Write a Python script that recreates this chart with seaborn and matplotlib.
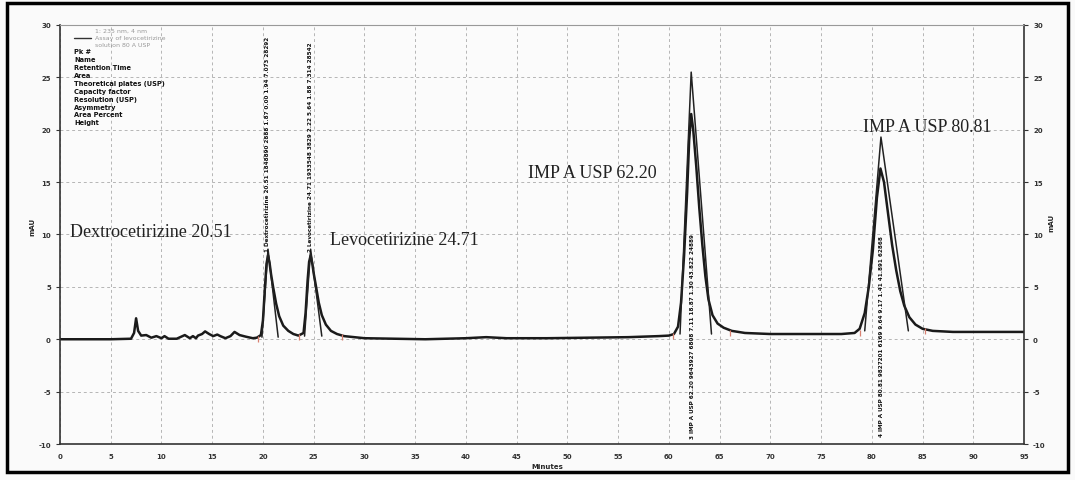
import matplotlib
matplotlib.use("Agg")
import matplotlib.pyplot as plt
from matplotlib.patches import Rectangle
import seaborn as sns
import pandas as pd

# ── data ─────────────────────────────────────────────────────────────────────
time_min = [0, 5, 7.0, 7.3, 7.5, 7.7, 8.0, 8.5, 9.0, 9.5, 10.0, 10.3, 10.7, 11.5,
            12.3, 12.8, 13.1, 13.4, 13.6, 14.0, 14.3, 14.7, 15.1, 15.5, 15.8, 16.3,
            16.8, 17.2, 17.7, 18.3, 19.0, 19.4, 19.8, 20.0, 20.2, 20.35, 20.5, 20.65,
            20.8, 21.0, 21.3, 21.6, 22.0, 22.5, 23.0, 23.5, 24.0, 24.2, 24.4, 24.55,
            24.7, 24.85, 25.0, 25.2, 25.5, 25.8, 26.2, 26.7, 27.3, 28.0, 29.0, 30.0,
            33, 36, 40, 42, 44, 48, 52, 56, 59, 60.0, 60.5, 60.9, 61.2, 61.5, 61.8,
            62.0, 62.2, 62.4, 62.7, 63.0, 63.3, 63.6, 63.9, 64.3, 64.8, 65.4, 66.2,
            67.5, 70, 74, 77, 78.3, 78.8, 79.3, 79.7, 80.1, 80.5, 80.85, 81.2, 81.6,
            82.0, 82.4, 82.8, 83.2, 83.7, 84.3, 85.0, 86.0, 88, 91, 95]
signal_mau = [0.0, 0.0, 0.05, 0.6, 2.0, 0.8, 0.35, 0.4, 0.15, 0.3, 0.1, 0.3, 0.05, 0.05,
              0.4, 0.1, 0.3, 0.1, 0.35, 0.5, 0.75, 0.5, 0.3, 0.45, 0.3, 0.1,
              0.3, 0.7, 0.4, 0.25, 0.1, 0.15, 0.4, 1.8, 5.0, 7.2, 8.0, 7.3,
              6.2, 5.0, 3.4, 2.2, 1.3, 0.8, 0.5, 0.35, 0.6, 2.5, 5.6, 7.4,
              8.0, 7.3, 6.3, 5.2, 3.5, 2.3, 1.4, 0.8, 0.5, 0.3, 0.2, 0.1,
              0.05, 0.0, 0.1, 0.2, 0.1, 0.1, 0.15, 0.2, 0.3, 0.35, 0.5, 1.2, 3.5, 8.0, 14.0,
              19.0, 21.5, 20.0, 16.5, 12.5, 9.0, 6.0, 3.8, 2.3, 1.5, 1.1, 0.8,
              0.6, 0.5, 0.5, 0.5, 0.6, 1.0, 2.5, 5.0, 8.5, 13.5, 16.3, 15.0, 12.0,
              9.0, 6.6, 4.6, 3.2, 2.1, 1.4, 1.0, 0.8, 0.7, 0.7, 0.7]

# USP tangent construction per peak
tan_left = [19.9, 24.1, 61.1, 79.3]
tan_apex_t = [20.5, 24.7, 62.2, 80.9]
tan_right = [21.5, 25.8, 64.2, 83.6]
tan_apex_h = [8.6, 8.6, 25.5, 19.3]
tan_base = [0.2, 0.3, 0.5, 0.8]

# integration start/end marks
mark_t = [19.5, 23.6, 27.8, 60.4, 66.0, 78.8, 85.2]
mark_y = [0.0, 0.2, 0.2, 0.3, 0.6, 0.6, 0.8]

# peak names written on the chart
peak_names = ["Dextrocetirizine 20.51", "Levocetirizine 24.71",
              "IMP A USP 62.20", "IMP A USP 80.81"]
name_x = [1.0, 26.6, 46.1, 79.1]
name_y = [10.3, 9.5, 15.9, 20.3]

# rotated result strings on each peak
peak_tables = ["1 Dextrocetirizine 20.51 1848890 2888 1.87 0.00 1.94 7.073 28292",
               "2 Levocetirizine 24.71 1933548 3829 2.22 5.64 1.88 7.314 28542",
               "3 IMP A USP 62.20 9643927 6808 7.11 18.87 1.30 43.822 24889",
               "4 IMP A USP 80.81 9827201 6169 9.64 9.17 1.41 41.891 62868"]
table_x = [20.4, 24.7, 62.3, 81.0]

legend_rows = ["Pk #", "Name", "Retention Time", "Area", "Theoretical plates (USP)",
               "Capacity factor", "Resolution (USP)", "Asymmetry", "Area Percent",
               "Height"]

x_ticks = list(range(0, 100, 5))
y_ticks = list(range(-10, 35, 5))

trace = pd.DataFrame({"Minutes": time_min, "mAU": signal_mau})

# ── plot ─────────────────────────────────────────────────────────────────────
sns.set_style("white")
plt.rcParams["font.family"] = ["DejaVu Sans"]
plt.rcParams["axes.unicode_minus"] = False

fig = plt.figure(figsize=(10.75, 4.81), dpi=100, facecolor="#fafafa")
ax = fig.add_axes([0.0558, 0.0748, 0.8968, 0.8712])
ax.set_facecolor("#fbfbfb")

sns.lineplot(data=trace, x="Minutes", y="mAU", ax=ax, color="#1a1a1a",
             linewidth=1.8, estimator=None, sort=False)

for l, a, r, h, b in zip(tan_left, tan_apex_t, tan_right, tan_apex_h, tan_base):
    ax.plot([l, a, r], [b, h, b], color="#222222", linewidth=1.1)

ax.scatter(mark_t, mark_y, marker="|", s=18, color="#d98070", linewidths=0.9, zorder=3)

for name, x, y in zip(peak_names, name_x, name_y):
    ax.text(x, y, name, fontsize=13, family="Liberation Serif", color="#222222",
            ha="left", va="center")

for i, (txt, x) in enumerate(zip(peak_tables, table_x)):
    if i < 2:
        ax.text(x, 8.4, txt, rotation=90, fontsize=4.1, fontweight="bold",
                ha="center", va="bottom", color="#111111")
    else:
        ax.text(x, 0.4, txt, rotation=90, fontsize=4.1, fontweight="bold",
                ha="center", va="center", color="#111111")

# legend block top-left
ax.text(0.036, 0.988, "1: 235 nm, 4 nm", transform=ax.transAxes, fontsize=4.5,
        color="#999999", va="center")
ax.plot([0.015, 0.032], [0.968, 0.968], transform=ax.transAxes, color="#333333", lw=1)
ax.text(0.036, 0.970, "Assay of levocetirizine", transform=ax.transAxes, fontsize=4.5,
        color="#999999", va="center")
ax.text(0.036, 0.954, "solution 80 A USP", transform=ax.transAxes, fontsize=4.5,
        color="#999999", va="center")
for k, row in enumerate(legend_rows):
    ax.text(0.015, 0.937 - k * 0.0188, row, transform=ax.transAxes, fontsize=4.8,
            fontweight="bold", color="#111111", va="center")

ax.set_xlim(0, 95)
ax.set_ylim(-10, 30)
ax.set_xticks(x_ticks)
ax.set_yticks(y_ticks)
ax.grid(True, color="#b5b5b5", linestyle=(0, (3, 3)), linewidth=0.7)
ax.tick_params(labelsize=5, length=3, width=0.8, colors="#333333")
for lab in ax.get_xticklabels() + ax.get_yticklabels():
    lab.set_fontweight("bold")
ax.set_xlabel("Minutes", fontsize=5, fontweight="bold")
ax.xaxis.set_label_coords(0.505, -0.045)
ax.set_ylabel("mAU", fontsize=5, fontweight="bold")
ax.yaxis.set_label_coords(-0.026, 0.24 + 0.0)
ax.yaxis.set_label_coords(-0.026, 0.52)
for side in ["left", "bottom", "right"]:
    ax.spines[side].set_color("#333333")
    ax.spines[side].set_linewidth(1.2)
ax.spines["top"].set_color("#999999")
ax.spines["top"].set_linewidth(0.8)

ax2 = ax.twinx()
ax2.set_ylim(-10, 30)
ax2.set_yticks(y_ticks)
ax2.tick_params(labelsize=5, length=3, width=0.8, colors="#333333")
for lab in ax2.get_yticklabels():
    lab.set_fontweight("bold")
ax2.set_ylabel("mAU", fontsize=5, fontweight="bold")
ax2.yaxis.set_label_coords(1.025, 0.53)
for sp in ax2.spines.values():
    sp.set_visible(False)

fig.add_artist(Rectangle((0.0065, 0.0166), 0.987, 0.975, transform=fig.transFigure,
                         fill=False, edgecolor="black", linewidth=2.5))

plt.savefig("out.png", dpi=100, facecolor=fig.get_facecolor())
plt.close()
